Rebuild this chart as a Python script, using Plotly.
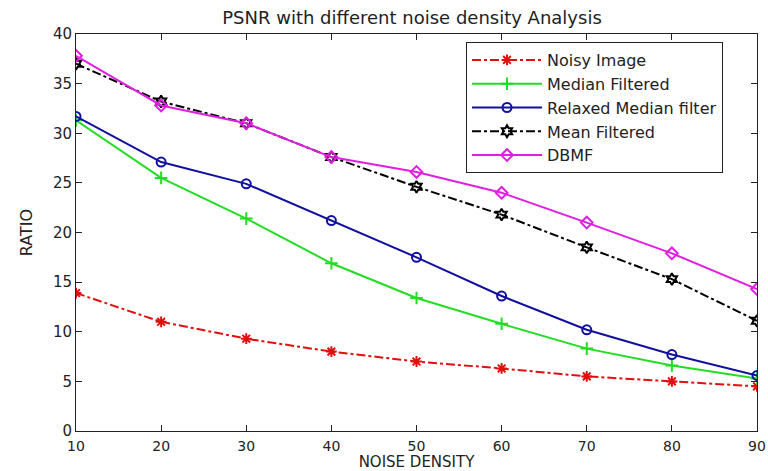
import plotly.graph_objects as go

noise_density = [10, 20, 30, 40, 50, 60, 70, 80, 90]
noisy_image = [13.9, 11.0, 9.3, 8.0, 7.0, 6.3, 5.5, 5.0, 4.5]
median_filtered = [31.3, 25.5, 21.4, 16.9, 13.4, 10.8, 8.3, 6.6, 5.3]
relaxed_median = [31.7, 27.1, 24.9, 21.2, 17.5, 13.6, 10.2, 7.7, 5.6]
mean_filtered = [37.0, 33.2, 31.0, 27.6, 24.6, 21.8, 18.5, 15.3, 11.1]
dbmf = [37.8, 32.8, 31.0, 27.6, 26.1, 24.0, 21.0, 17.9, 14.3]

series = [
    ("Noisy Image", noisy_image, "#e01010", "dashdot", "asterisk-open"),
    ("Median Filtered", median_filtered, "#22dd22", "solid", "cross-thin-open"),
    ("Relaxed Median filter", relaxed_median, "#1010a0", "solid", "circle-open"),
    ("Mean Filtered", mean_filtered, "#000000", "dashdot", "hexagram-open"),
    ("DBMF", dbmf, "#e020e0", "solid", "diamond-open"),
]

fig = go.Figure()
for name, vals, color, dash, sym in series:
    fig.add_trace(go.Scatter(
        x=noise_density, y=vals, name=name, mode="lines+markers",
        line=dict(color=color, width=2, dash=dash),
        marker=dict(symbol=sym, size=9, color=color, line=dict(color=color, width=2)),
    ))

font = "DejaVu Sans, Verdana, sans-serif"
fig.update_layout(
    width=768, height=471,
    margin=dict(l=76, r=11, t=34, b=40),
    paper_bgcolor="white", plot_bgcolor="white",
    font=dict(family=font, size=15, color="#222"),
    title=dict(text="PSNR with different noise density Analysis", x=412 / 768, xanchor="center",
               y=1 - 18 / 471, yanchor="middle", font=dict(size=18, color="#222")),
    legend=dict(x=(466 - 76) / 681, y=(431 - 42) / 397, xanchor="left", yanchor="top",
                bordercolor="#222", borderwidth=1, bgcolor="white",
                font=dict(size=16, color="#222"), itemwidth=70,
                tracegroupgap=0),
    showlegend=True,
)
fig.update_xaxes(
    range=[10, 90], dtick=10, tick0=10, automargin=False,
    title=dict(text="NOISE DENSITY", standoff=3, font=dict(size=15)),
    showline=True, linecolor="#222", linewidth=1, mirror="ticks",
    ticks="inside", ticklen=6, tickcolor="#222", showgrid=False, zeroline=False,
    tickfont=dict(size=14), ticklabelstandoff=2,
)
fig.update_yaxes(
    range=[0, 40], dtick=5, automargin=False,
    title=dict(text="RATIO", standoff=16, font=dict(size=16)),
    showline=True, linecolor="#222", linewidth=1, mirror="ticks",
    ticks="inside", ticklen=6, tickcolor="#222", showgrid=False, zeroline=False,
    tickfont=dict(size=15),
)
fig.write_html("out.html")
